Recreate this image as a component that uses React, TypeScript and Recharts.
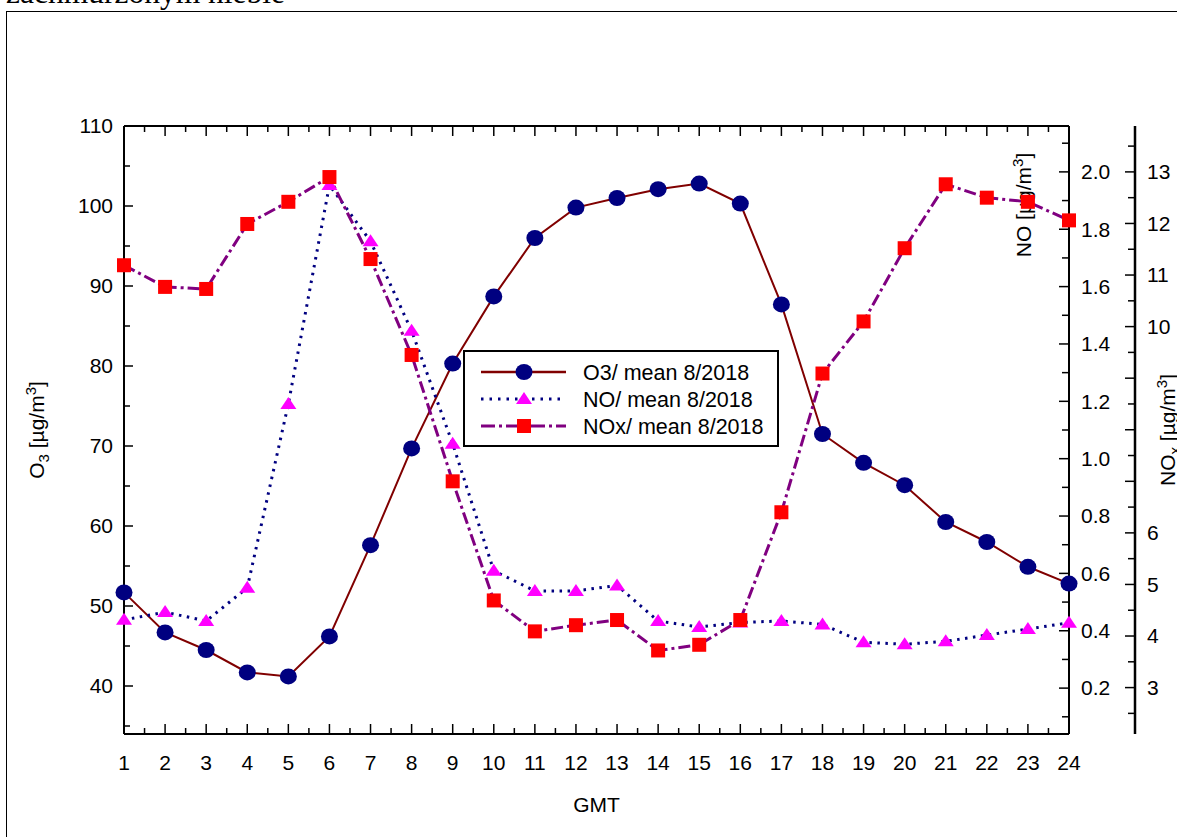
import React from "react";
import { ComposedChart, Line, XAxis, YAxis, Legend } from "recharts";

// hourly means, August 2018
const hours = [1, 2, 3, 4, 5, 6, 7, 8, 9, 10, 11, 12, 13, 14, 15, 16, 17, 18, 19, 20, 21, 22, 23, 24];
const o3 = [51.7, 46.7, 44.5, 41.7, 41.2, 46.2, 57.6, 69.7, 80.3, 88.7, 96.0, 99.8, 101.0, 102.1, 102.8, 100.3, 87.7, 71.5, 67.9, 65.1, 60.5, 58.0, 54.9, 52.8];
const no = [0.438, 0.465, 0.434, 0.55, 1.191, 1.954, 1.758, 1.446, 1.052, 0.609, 0.539, 0.539, 0.558, 0.434, 0.413, 0.429, 0.434, 0.422, 0.36, 0.353, 0.363, 0.385, 0.406, 0.428];
const nox = [11.19, 10.77, 10.73, 11.99, 12.42, 12.9, 11.31, 9.45, 7.0, 4.69, 4.09, 4.21, 4.31, 3.72, 3.83, 4.31, 6.4, 9.09, 10.1, 11.52, 12.76, 12.5, 12.42, 12.06];

// axis ticks (major + minor)
const xMajor = [1, 2, 3, 4, 5, 6, 7, 8, 9, 10, 11, 12, 13, 14, 15, 16, 17, 18, 19, 20, 21, 22, 23, 24];
const xMinor = [1.5, 2.5, 3.5, 4.5, 5.5, 6.5, 7.5, 8.5, 9.5, 10.5, 11.5, 12.5, 13.5, 14.5, 15.5, 16.5, 17.5, 18.5, 19.5, 20.5, 21.5, 22.5, 23.5];
const o3Major = [40, 50, 60, 70, 80, 90, 100, 110];
const o3Minor = [35, 45, 55, 65, 75, 85, 95, 105];
const noMajor = [0.2, 0.4, 0.6, 0.8, 1.0, 1.2, 1.4, 1.6, 1.8, 2.0];
const noMinor = [0.1, 0.3, 0.5, 0.7, 0.9, 1.1, 1.3, 1.5, 1.7, 1.9, 2.1];
const noxMajor = [3, 4, 5, 6, 7, 8, 9, 10, 11, 12, 13];
const noxMinor = [2.5, 3.5, 4.5, 5.5, 6.5, 7.5, 8.5, 9.5, 10.5, 11.5, 12.5, 13.5];
const noxLabeled = [3, 4, 5, 6, 10, 11, 12, 13];

const legendItems = ["O3/ mean 8/2018", "NO/ mean 8/2018", "NOx/ mean 8/2018"];

const FONT = "'Liberation Sans', Arial, sans-serif";
const FS = 21;
const O3_LINE = "#800000";
const O3_DOT = "#000080";
const NO_LINE = "#000080";
const NO_DOT = "#ff00ff";
const NOX_LINE = "#800080";
const NOX_DOT = "#ff0000";

const sorted = (a: number[], b: number[]) => [...a, ...b].sort((p, q) => p - q);
const has = (arr: number[], v: number) => arr.some((m) => Math.abs(m - v) < 1e-6);

type TickOpts = {
  side: "left" | "right" | "bottom" | "top";
  major: number[];
  labeled?: number[];
  majorLen: number;
  minorLen: number;
  gap: number;
  fmt?: (v: number) => string;
};

function makeTick(o: TickOpts) {
  return (props: any) => {
    const { x, y, payload } = props;
    const v = payload.value as number;
    const isMajor = has(o.major, v);
    const len = isMajor ? o.majorLen : o.minorLen;
    const showLabel = isMajor && (!o.labeled || has(o.labeled, v));
    const label = o.fmt ? o.fmt(v) : String(v);
    let line;
    let text = null;
    if (o.side === "left") {
      line = <line x1={x} y1={y} x2={x + len} y2={y} />;
      if (showLabel) text = <text x={x - o.gap} y={y} dy="0.35em" textAnchor="end">{label}</text>;
    } else if (o.side === "right") {
      line = <line x1={x} y1={y} x2={x - len} y2={y} />;
      if (showLabel) text = <text x={x + o.gap} y={y} dy="0.35em" textAnchor="start">{label}</text>;
    } else if (o.side === "bottom") {
      line = <line x1={x} y1={y} x2={x} y2={y - len} />;
      if (showLabel) text = <text x={x} y={y + o.gap} dy="0.35em" textAnchor="middle">{label}</text>;
    } else {
      line = <line x1={x} y1={y} x2={x} y2={y + len} />;
    }
    return (
      <g>
        <g stroke="#000" strokeWidth={1.5}>{line}</g>
        <g fill="#000" fontSize={FS} fontFamily={FONT}>{text}</g>
      </g>
    );
  };
}

const CircleDot = (p: any) =>
  p.cx == null ? <g /> : <ellipse cx={p.cx} cy={p.cy} rx={8.5} ry={8} fill={O3_DOT} />;
const TriDot = (p: any) =>
  p.cx == null ? <g /> : (
    <polygon points={`${p.cx},${p.cy - 7} ${p.cx - 8},${p.cy + 5} ${p.cx + 8},${p.cy + 5}`} fill={NO_DOT} />
  );
const SquareDot = (p: any) =>
  p.cx == null ? <g /> : <rect x={p.cx - 7} y={p.cy - 7} width={14} height={14} fill={NOX_DOT} />;

function LegendBox() {
  const rowY = [22, 49, 76];
  return (
    <svg width={316} height={97} style={{ display: "block" }}>
      <rect x={1} y={1} width={314} height={95} fill="#fff" stroke="#000" strokeWidth={2} />
      <line x1={18} y1={rowY[0]} x2={103} y2={rowY[0]} stroke={O3_LINE} strokeWidth={2.5} />
      <ellipse cx={61} cy={rowY[0]} rx={8.5} ry={8} fill={O3_DOT} />
      <line x1={18} y1={rowY[1]} x2={103} y2={rowY[1]} stroke={NO_LINE} strokeWidth={3} strokeDasharray="2.5 6" />
      <polygon points={`61,${rowY[1] - 7} 53,${rowY[1] + 5} 69,${rowY[1] + 5}`} fill={NO_DOT} />
      <line x1={18} y1={rowY[2]} x2={103} y2={rowY[2]} stroke={NOX_LINE} strokeWidth={3} strokeDasharray="14 4 3 4" />
      <rect x={54} y={rowY[2] - 7} width={14} height={14} fill={NOX_DOT} />
      {legendItems.map((t, i) => (
        <text key={t} x={120} y={rowY[i]} dy="0.35em" fontSize={21.5} fontFamily={FONT} fill="#000">
          {t}
        </text>
      ))}
    </svg>
  );
}

export default function App() {
  const data = hours.map((h, i) => ({ hour: h, o3: o3[i], no: no[i], nox: nox[i] }));
  return (
    <div style={{ position: "absolute", left: 0, top: 0, width: 1177, height: 837, overflow: "hidden", background: "#fff" }}>
      <svg width={400} height={14} style={{ position: "absolute", left: 0, top: 0 }}>
        <text x={6} y={3} fontSize={31.5} fontFamily="'Liberation Serif', 'Times New Roman', serif" fill="#000">
          zachmurzonym niebie
        </text>
      </svg>
      <div style={{ position: "absolute", left: 6, top: 11, width: 1300, height: 1000, border: "1px solid #000" }} />
      <div style={{ position: "absolute", left: 0, top: 0 }}>
        <ComposedChart width={1177} height={837} data={data} margin={{ top: 116, right: 0, bottom: 0, left: 0 }}>
          <XAxis
            xAxisId="x"
            dataKey="hour"
            type="number"
            domain={[1, 24]}
            ticks={sorted(xMajor, xMinor)}
            interval={0}
            height={103}
            tickSize={0}
            tickMargin={0}
            axisLine={{ stroke: "#000", strokeWidth: 2 }}
            tickLine={false}
            tick={makeTick({ side: "bottom", major: xMajor, majorLen: 10, minorLen: 6, gap: 29 })}
            label={{
              content: (p: any) => (
                <text x={p.viewBox.x + p.viewBox.width / 2} y={p.viewBox.y + 71} dy="0.35em" textAnchor="middle" fontSize={FS} fontFamily={FONT} fill="#000">
                  GMT
                </text>
              ),
            }}
          />
          <XAxis
            xAxisId="top"
            orientation="top"
            dataKey="hour"
            type="number"
            domain={[1, 24]}
            ticks={sorted(xMajor, xMinor)}
            interval={0}
            height={10}
            tickSize={0}
            tickMargin={0}
            axisLine={{ stroke: "#000", strokeWidth: 2 }}
            tickLine={false}
            tick={makeTick({ side: "top", major: xMajor, majorLen: 10, minorLen: 6, gap: 0 })}
          />
          <YAxis
            yAxisId="o3"
            orientation="left"
            type="number"
            domain={[34, 110]}
            ticks={sorted(o3Major, o3Minor)}
            interval={0}
            width={124}
            tickSize={0}
            tickMargin={0}
            axisLine={{ stroke: "#000", strokeWidth: 2 }}
            tickLine={false}
            tick={makeTick({ side: "left", major: o3Major, majorLen: 9, minorLen: 6, gap: 11 })}
            label={{
              content: (p: any) => {
                const cx = p.viewBox.x + 37;
                const cy = p.viewBox.y + p.viewBox.height / 2;
                return (
                  <text x={cx} y={cy} dy="0.35em" textAnchor="middle" transform={`rotate(-90, ${cx}, ${cy})`} fontSize={FS} fontFamily={FONT} fill="#000">
                    O<tspan dy={5} fontSize={15}>3</tspan>
                    <tspan dy={-5}> [µg/m</tspan>
                    <tspan dy={-8} fontSize={15}>3</tspan>
                    <tspan dy={8}>]</tspan>
                  </text>
                );
              },
            }}
          />
          <YAxis
            yAxisId="no"
            orientation="right"
            type="number"
            domain={[0.04, 2.16]}
            ticks={sorted(noMajor, noMinor)}
            interval={0}
            width={66}
            tickSize={0}
            tickMargin={0}
            axisLine={{ stroke: "#000", strokeWidth: 2 }}
            tickLine={false}
            tick={makeTick({ side: "right", major: noMajor, majorLen: 10, minorLen: 7, gap: 12, fmt: (v) => v.toFixed(1) })}
            label={{
              content: (p: any) => {
                const cx = p.viewBox.x - 45;
                const cy = p.viewBox.y + 79;
                return (
                  <text x={cx} y={cy} dy="0.35em" textAnchor="middle" transform={`rotate(-90, ${cx}, ${cy})`} fontSize={FS} fontFamily={FONT} fill="#000">
                    NO [µg/m<tspan dy={-8} fontSize={15}>3</tspan>
                    <tspan dy={8}>]</tspan>
                  </text>
                );
              },
            }}
          />
          <YAxis
            yAxisId="nox"
            orientation="right"
            type="number"
            domain={[2.1, 13.89]}
            ticks={sorted(noxMajor, noxMinor)}
            interval={0}
            width={42}
            tickSize={0}
            tickMargin={0}
            axisLine={{ stroke: "#000", strokeWidth: 2.5 }}
            tickLine={false}
            tick={makeTick({ side: "right", major: noxMajor, labeled: noxLabeled, majorLen: 10, minorLen: 7, gap: 12 })}
            label={{
              content: (p: any) => {
                const cx = p.viewBox.x + 33;
                const cy = p.viewBox.y + p.viewBox.height / 2;
                return (
                  <text x={cx} y={cy} dy="0.35em" textAnchor="middle" transform={`rotate(-90, ${cx}, ${cy})`} fontSize={FS} fontFamily={FONT} fill="#000">
                    NO<tspan dy={5} fontSize={15}>x</tspan>
                    <tspan dy={-5}> [µg/m</tspan>
                    <tspan dy={-8} fontSize={15}>3</tspan>
                    <tspan dy={8}>]</tspan>
                  </text>
                );
              },
            }}
          />
          <Legend
            layout="vertical"
            align="center"
            verticalAlign="middle"
            wrapperStyle={{ position: "absolute", left: 463, top: 350, width: 316, height: 97 }}
            content={() => <LegendBox />}
          />
          <Line
            xAxisId="x"
            yAxisId="o3"
            dataKey="o3"
            type="linear"
            stroke={O3_LINE}
            strokeWidth={2}
            dot={CircleDot}
            activeDot={false}
            isAnimationActive={false}
          />
          <Line
            xAxisId="x"
            yAxisId="no"
            dataKey="no"
            type="linear"
            stroke={NO_LINE}
            strokeWidth={3}
            strokeDasharray="2.5 5.5"
            dot={TriDot}
            activeDot={false}
            isAnimationActive={false}
          />
          <Line
            xAxisId="x"
            yAxisId="nox"
            dataKey="nox"
            type="linear"
            stroke={NOX_LINE}
            strokeWidth={3}
            strokeDasharray="12 4 3 4"
            dot={SquareDot}
            activeDot={false}
            isAnimationActive={false}
          />
        </ComposedChart>
      </div>
    </div>
  );
}
